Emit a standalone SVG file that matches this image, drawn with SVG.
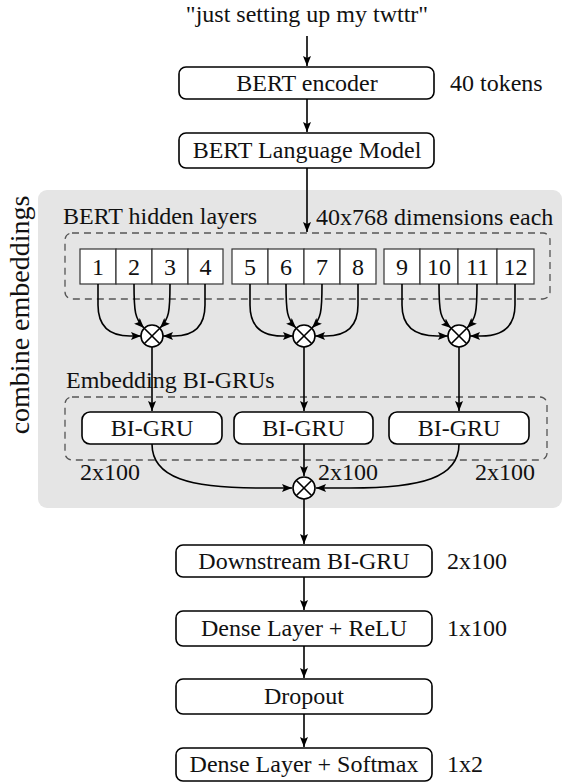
<svg xmlns="http://www.w3.org/2000/svg" width="571" height="782" viewBox="0 0 571 782">
<style>
text{font-family:"Liberation Serif","Times New Roman","DejaVu Serif",serif;font-size:24px;fill:#111}
.c{text-anchor:middle}
.box{fill:#fff;stroke:#000;stroke-width:1.6}
.cell{fill:#fff;stroke:#333;stroke-width:1.2}
.dash{fill:none;stroke:#555;stroke-width:1.3;stroke-dasharray:7 5}
.ln{fill:none;stroke:#000;stroke-width:1.6;marker-end:url(#ah)}
.ot circle{fill:#fff;stroke:#000;stroke-width:1.6}
.ot path{stroke:#000;stroke-width:1.6}
</style>
<defs>
<marker id="ah" viewBox="0 0 10 8" markerWidth="10" markerHeight="8" refX="10" refY="4" orient="auto" markerUnits="userSpaceOnUse">
<path d="M0,0 L10,4 L0,8 L2,4 z" fill="#000"/>
</marker>
</defs>
<rect id="region" x="38" y="190" width="524" height="318" rx="9" fill="#e5e5e5"/>
<text x="29" y="315" class="c" transform="rotate(-90 29 315)" style="font-size:28px">combine embeddings</text>
<g id="title"><text x="307" y="22" class="c">"just setting up my twttr"</text></g>
<g id="bert-encoder"><rect class="box" x="179" y="67" width="255" height="32" rx="7"/><text x="307" y="91" class="c">BERT encoder</text></g>
<text x="450" y="91">40 tokens</text>
<g id="bert-lm"><rect class="box" x="179" y="133" width="255" height="35" rx="7"/><text x="307" y="158" class="c">BERT Language Model</text></g>
<g id="hidden-layers">
<rect class="dash" x="65" y="233" width="485" height="66" rx="7"/>
<text x="63" y="224">BERT hidden layers</text>
<text x="316" y="225">40x768 dimensions each</text>
<rect class="cell" x="80" y="249" width="36" height="35"/><text x="98" y="275" class="c">1</text>
<rect class="cell" x="116" y="249" width="36" height="35"/><text x="134" y="275" class="c">2</text>
<rect class="cell" x="152" y="249" width="36" height="35"/><text x="170" y="275" class="c">3</text>
<rect class="cell" x="188" y="249" width="35" height="35"/><text x="205.5" y="275" class="c">4</text>
<rect class="cell" x="232" y="249" width="36" height="35"/><text x="250" y="275" class="c">5</text>
<rect class="cell" x="268" y="249" width="36" height="35"/><text x="286" y="275" class="c">6</text>
<rect class="cell" x="304" y="249" width="36" height="35"/><text x="322" y="275" class="c">7</text>
<rect class="cell" x="340" y="249" width="36" height="35"/><text x="358" y="275" class="c">8</text>
<rect class="cell" x="384" y="249" width="36" height="35"/><text x="402" y="275" class="c">9</text>
<rect class="cell" x="420" y="249" width="38" height="35"/><text x="439" y="275" class="c">10</text>
<rect class="cell" x="458" y="249" width="39" height="35"/><text x="477.5" y="275" class="c">11</text>
<rect class="cell" x="497" y="249" width="37" height="35"/><text x="515.5" y="275" class="c">12</text>
</g>
<g id="embedding-grus">
<rect class="dash" x="65" y="397" width="482" height="63" rx="7"/>
<text x="66" y="388">Embedding BI-GRUs</text>
<text x="80" y="480">2x100</text>
<text x="318" y="480">2x100</text>
<text x="475" y="480">2x100</text>
</g>
<g id="connectors">
<path class="ln" d="M307,36 V66"/>
<path class="ln" d="M307,99 V132"/>
<path class="ln" d="M307,168 V232"/>
<path class="ln" d="M98,284 V305 Q98,336 130,336 H141"/>
<path class="ln" d="M134,284 C134,312 135,319 144,328"/>
<path class="ln" d="M170,284 C170,312 169,319 160,328"/>
<path class="ln" d="M205,284 V305 Q205,336 174,336 H163"/>
<path class="ln" d="M250,284 V305 Q250,336 282,336 H293"/>
<path class="ln" d="M286,284 C286,312 287,319 296,328"/>
<path class="ln" d="M322,284 C322,312 321,319 312,328"/>
<path class="ln" d="M358,284 V305 Q358,336 326,336 H315"/>
<path class="ln" d="M402,284 V305 Q402,336 437,336 H448"/>
<path class="ln" d="M439,284 C439,312 440,319 451,328"/>
<path class="ln" d="M477,284 C477,312 476,319 467,328"/>
<path class="ln" d="M515,284 V305 Q515,336 481,336 H470"/>
<path class="ln" d="M152,347 V411"/>
<path class="ln" d="M304,347 V411"/>
<path class="ln" d="M459,347 V411"/>
<path class="ln" d="M152,444 C152,478 190,488 260,488 H292"/>
<path class="ln" d="M304,444 V476"/>
<path class="ln" d="M459,444 C459,478 421,488 350,488 H316"/>
<path class="ln" d="M304,499 V544"/>
<path class="ln" d="M304,577 V610"/>
<path class="ln" d="M304,646 V678"/>
<path class="ln" d="M304,714 V747"/>
</g>
<g id="otimes1" class="ot"><circle cx="152" cy="336" r="11"/><path d="M144.2,328.2 L159.8,343.8 M159.8,328.2 L144.2,343.8"/></g>
<g id="otimes2" class="ot"><circle cx="304" cy="336" r="11"/><path d="M296.2,328.2 L311.8,343.8 M311.8,328.2 L296.2,343.8"/></g>
<g id="otimes3" class="ot"><circle cx="459" cy="336" r="11"/><path d="M451.2,328.2 L466.8,343.8 M466.8,328.2 L451.2,343.8"/></g>
<g id="otimes4" class="ot"><circle cx="304" cy="488" r="11"/><path d="M296.2,480.2 L311.8,495.8 M311.8,480.2 L296.2,495.8"/></g>
<g id="bigru1"><rect class="box" x="82" y="412" width="140" height="32" rx="8"/><text x="152" y="436" class="c">BI-GRU</text></g>
<g id="bigru2"><rect class="box" x="234" y="412" width="139" height="32" rx="8"/><text x="303.5" y="436" class="c">BI-GRU</text></g>
<g id="bigru3"><rect class="box" x="389" y="412" width="140" height="32" rx="8"/><text x="459" y="436" class="c">BI-GRU</text></g>
<g id="downstream"><rect class="box" x="176" y="545" width="256" height="32" rx="7"/><text x="304" y="569" class="c">Downstream BI-GRU</text></g>
<text x="447" y="569">2x100</text>
<g id="dense-relu"><rect class="box" x="176" y="611" width="256" height="35" rx="7"/><text x="304" y="636" class="c">Dense Layer + ReLU</text></g>
<text x="447" y="636">1x100</text>
<g id="dropout"><rect class="box" x="176" y="679" width="256" height="35" rx="7"/><text x="304" y="704" class="c">Dropout</text></g>
<g id="dense-softmax"><rect class="box" x="176" y="748" width="256" height="33" rx="7"/><text x="304" y="772" class="c">Dense Layer + Softmax</text></g>
<text x="447" y="772">1x2</text>
</svg>
